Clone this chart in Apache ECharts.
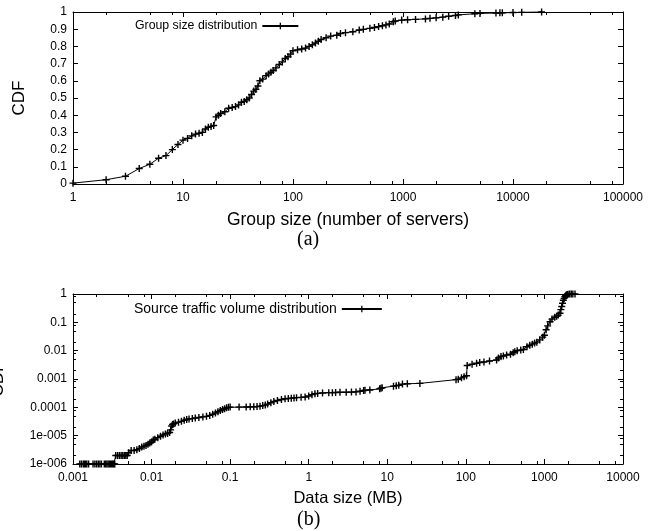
<!DOCTYPE html>
<html>
<head>
<meta charset="utf-8">
<script src="https://cdn.jsdelivr.net/npm/echarts@6/dist/echarts.min.js"></script>
<style>
html,body{margin:0;padding:0;background:#fff;}
#chart{width:665px;height:531px;}
</style>
</head>
<body>
<div id="chart"></div>
<script>
// ---- Data (a): group size distribution ----
const groupSize = [1,2,3,4,5,6,7,8,9,10,11,12,13,14,15,16,17,18,19,20,21,22,24,26,28,30,32,34,36,38,40,42,44,46,48,50,53,57,60,63,66,70,75,80,85,90,95,100,110,120,130,140,150,160,170,180,200,220,250,270,300,350,400,436,500,550,600,650,700,750,817,850,973,1100,1300,1600,1760,2000,2300,2600,3000,3184,4500,5010,7000,7600,8000,10000,12000,18200];
const groupCdf  = [0.005,0.025,0.045,0.09,0.115,0.15,0.165,0.2,0.23,0.255,0.265,0.28,0.29,0.295,0.3,0.32,0.33,0.335,0.34,0.39,0.4,0.41,0.42,0.44,0.445,0.45,0.46,0.475,0.48,0.49,0.5,0.52,0.54,0.55,0.57,0.6,0.61,0.63,0.64,0.65,0.66,0.675,0.695,0.71,0.73,0.74,0.755,0.775,0.78,0.785,0.79,0.8,0.81,0.82,0.83,0.84,0.85,0.86,0.865,0.875,0.88,0.885,0.895,0.899,0.905,0.91,0.915,0.92,0.925,0.93,0.944,0.948,0.953,0.955,0.957,0.96,0.963,0.966,0.97,0.975,0.98,0.983,0.99,0.992,0.994,0.995,0.995,0.997,0.998,1.0];

// ---- Data (b): source traffic volume distribution ----
const dataSize = [0.00122,0.00128,0.00135,0.0014,0.00145,0.0015,0.00158,0.0018,0.0019,0.002,0.0021,0.0022,0.0023,0.0025,0.0026,0.0027,0.0028,0.0029,0.003,0.0031,0.0032,0.0033,0.0034,
  0.0035,0.0037,0.0039,0.0041,0.0043,0.0045,0.0047,0.0049,0.0051,0.0055,0.006,0.0065,0.007,0.0075,0.008,0.0085,0.009,0.0095,0.01,0.0105,0.011,0.012,0.013,0.014,0.015,0.016,0.017,0.0175,0.018,0.0185,0.019,0.02,0.022,0.024,0.026,0.028,0.03,0.033,0.036,0.04,0.045,0.05,0.055,0.06,0.065,0.07,0.075,0.08,0.085,0.09,0.095,0.1,
  0.13,0.16,0.18,0.2,0.22,0.24,0.26,0.28,0.3,0.33,0.36,0.4,0.45,0.5,0.55,0.6,0.65,0.7,0.8,0.9,1.0,1.1,1.2,1.3,1.5,1.8,2.0,2.2,2.5,3.0,3.5,4.0,4.5,5.0,5.2,6,8,8.3,8.6,12,13,14,15.6,18,26,75,80,88,95,102,
  104,120,137,150,170,200,246,260,280,300,330,370,400,420,450,500,540,600,650,700,750,800,870,950,1000,1050,1100,1180,1250,1350,1430,1500,1580,1620,1660,1700,1740,1780,1820,1860,1900,1950,2000,2100,2200,2300,2450];
const dataCdf = [1e-6,1e-6,1e-6,1e-6,1e-6,1e-6,1e-6,1e-6,1e-6,1e-6,1e-6,1e-6,1e-6,1e-6,1e-6,1e-6,1e-6,1e-6,1e-6,1e-6,1e-6,1e-6,1e-6,
  2e-6,2e-6,2e-6,2e-6,2e-6,2e-6,2e-6,2e-6,2.5e-6,3e-6,3e-6,3.2e-6,3.5e-6,4e-6,4.2e-6,4.5e-6,5e-6,5.5e-6,6e-6,7e-6,7.5e-6,8.5e-6,9.5e-6,1.05e-5,1.15e-5,1.2e-5,1.3e-5,1.6e-5,2.2e-5,2.5e-5,2.6e-5,2.8e-5,3.0e-5,3.2e-5,3.5e-5,3.7e-5,3.9e-5,4.0e-5,4.2e-5,4.4e-5,4.6e-5,4.8e-5,5.2e-5,5.7e-5,6.3e-5,7e-5,7.7e-5,8.4e-5,9e-5,9.6e-5,1.0e-4,1.02e-4,
  1.02e-4,1.03e-4,1.04e-4,1.05e-4,1.06e-4,1.1e-4,1.15e-4,1.2e-4,1.3e-4,1.45e-4,1.6e-4,1.75e-4,1.9e-4,2.0e-4,2.05e-4,2.1e-4,2.15e-4,2.2e-4,2.25e-4,2.3e-4,2.5e-4,2.8e-4,3.0e-4,3.1e-4,3.2e-4,3.3e-4,3.3e-4,3.35e-4,3.4e-4,3.4e-4,3.45e-4,3.5e-4,3.7e-4,3.9e-4,4.0e-4,4.1e-4,4.5e-4,4.7e-4,4.9e-4,5.6e-4,5.8e-4,6.0e-4,6.6e-4,6.8e-4,7e-4,9.5e-4,9.8e-4,1.1e-3,1.2e-3,1.3e-3,
  3.0e-3,3.3e-3,3.6e-3,3.8e-3,4.0e-3,4.3e-3,4.7e-3,5.5e-3,6.2e-3,6.5e-3,7.0e-3,7.5e-3,8.5e-3,9.2e-3,1.0e-2,1.05e-2,1.1e-2,1.38e-2,1.55e-2,1.7e-2,1.85e-2,2.0e-2,2.4e-2,3.0e-2,3.5e-2,5.5e-2,7.5e-2,0.105,0.13,0.15,0.165,0.18,0.21,0.28,0.36,0.47,0.6,0.7,0.8,0.87,0.93,0.96,0.98,0.995,1,1,1];

// ---- Tick labels ----
const xTicksA = ['1','10','100','1000','10000','100000'];
const xTicksB = ['0.001','0.01','0.1','1','10','100','1000','10000'];
const yTicksB = ['1e-006','1e-005','0.0001','0.001','0.01','0.1','1'];
const minorMantissas = [2, 5, 8];

const seriesNameA = 'Group size distribution';
const seriesNameB = 'Source traffic volume distribution';

const FONT = '"Liberation Sans", Arial, Helvetica, sans-serif';
const plus = 'path://M4,0L6,0L6,4L10,4L10,6L6,6L6,10L4,10L4,6L0,6L0,4L4,4Z';

function logLabel(arr, minExp) {
  return function (v) {
    const i = Math.round(Math.log10(v)) - minExp;
    return arr[i] !== undefined ? arr[i] : '';
  };
}
function minorValues(minExp, maxExp) {
  const out = [];
  for (let e = minExp; e < maxExp; e++) {
    minorMantissas.forEach(m => out.push(+(m * Math.pow(10, e)).toPrecision(6)));
  }
  return out;
}

const axisLineBlack = { show: true, onZero: false, lineStyle: { color: '#000', width: 1 } };
const tickIn = { show: true, inside: true, length: 5, lineStyle: { color: '#000' } };
const lblStyle = { color: '#000', fontFamily: FONT, fontSize: 12 };

function minorAxis(type, grid, min, max, pos, vals) {
  return { type: 'log', logBase: 10, gridIndex: grid, min: min, max: max, position: pos,
    axisLine: { show: false, onZero: false }, splitLine: { show: false }, axisLabel: { show: false },
    axisTick: { show: true, inside: true, length: 3, customValues: vals, lineStyle: { color: '#000' } } };
}

const chart = echarts.init(document.getElementById('chart'), null, { renderer: 'canvas' });
chart.setOption({
  animation: false,
  backgroundColor: '#fff',
  grid: [
    { left: 73, top: 12, width: 550, height: 172, containLabel: false, outerBoundsMode: 'none' },
    { left: 73, top: 294, width: 550, height: 170, containLabel: false, outerBoundsMode: 'none' }
  ],
  legend: [
    { data: [seriesNameA], left: 130, top: 15, align: 'right', itemWidth: 36, itemHeight: 8, itemGap: 0,
      textStyle: { color: '#000', fontFamily: FONT, fontSize: 12.3 } },
    { data: [seriesNameB], left: 129, top: 297, align: 'right', itemWidth: 40, itemHeight: 8, itemGap: 0,
      textStyle: { color: '#000', fontFamily: FONT, fontSize: 14 } }
  ],
  xAxis: [
    { type: 'log', logBase: 10, gridIndex: 0, min: 1, max: 100000, position: 'bottom',
      axisLine: axisLineBlack, axisTick: tickIn, splitLine: { show: false },
      axisLabel: Object.assign({ margin: 8, formatter: logLabel(xTicksA, 0) }, lblStyle),
      name: 'Group size (number of servers)', nameLocation: 'middle', nameGap: 27,
      nameTextStyle: { color: '#000', fontFamily: FONT, fontSize: 17.5 } },
    { type: 'log', logBase: 10, gridIndex: 0, min: 1, max: 100000, position: 'top',
      axisLine: axisLineBlack, axisTick: tickIn, splitLine: { show: false }, axisLabel: { show: false } },
    { type: 'log', logBase: 10, gridIndex: 1, min: 0.001, max: 10000, position: 'bottom',
      axisLine: axisLineBlack, axisTick: tickIn, splitLine: { show: false },
      axisLabel: Object.assign({ margin: 8, formatter: logLabel(xTicksB, -3) }, lblStyle),
      name: 'Data size (MB)', nameLocation: 'middle', nameGap: 26,
      nameTextStyle: { color: '#000', fontFamily: FONT, fontSize: 16.5 } },
    { type: 'log', logBase: 10, gridIndex: 1, min: 0.001, max: 10000, position: 'top',
      axisLine: axisLineBlack, axisTick: tickIn, splitLine: { show: false }, axisLabel: { show: false } },
    minorAxis('x', 0, 1, 100000, 'bottom', minorValues(0, 5)),
    minorAxis('x', 0, 1, 100000, 'top', minorValues(0, 5)),
    minorAxis('x', 1, 0.001, 10000, 'bottom', minorValues(-3, 4)),
    minorAxis('x', 1, 0.001, 10000, 'top', minorValues(-3, 4))
  ],
  yAxis: [
    { type: 'value', gridIndex: 0, min: 0, max: 1, interval: 0.1, position: 'left',
      axisLine: axisLineBlack, axisTick: tickIn, splitLine: { show: false },
      axisLabel: Object.assign({ margin: 6 }, lblStyle),
      name: 'CDF', nameLocation: 'middle', nameGap: 45, nameRotate: 90,
      nameTextStyle: { color: '#000', fontFamily: FONT, fontSize: 17 } },
    { type: 'value', gridIndex: 0, min: 0, max: 1, interval: 0.1, position: 'right',
      axisLine: axisLineBlack, axisTick: tickIn, splitLine: { show: false }, axisLabel: { show: false } },
    { type: 'log', logBase: 10, gridIndex: 1, min: 1e-6, max: 1, position: 'left',
      axisLine: axisLineBlack, axisTick: tickIn, splitLine: { show: false },
      axisLabel: Object.assign({ margin: 6, formatter: logLabel(yTicksB, -6) }, lblStyle),
      name: 'CDF', nameLocation: 'middle', nameGap: 66, nameRotate: 90,
      nameTextStyle: { color: '#000', fontFamily: FONT, fontSize: 17 } },
    { type: 'log', logBase: 10, gridIndex: 1, min: 1e-6, max: 1, position: 'right',
      axisLine: axisLineBlack, axisTick: tickIn, splitLine: { show: false }, axisLabel: { show: false } },
    minorAxis('y', 1, 1e-6, 1, 'left', minorValues(-6, 0)),
    minorAxis('y', 1, 1e-6, 1, 'right', minorValues(-6, 0))
  ],
  graphic: [
    { type: 'text', left: 297, top: 230, style: { text: '(a)', fill: '#000', font: '20px "Liberation Serif", "DejaVu Serif", serif' } },
    { type: 'text', left: 297, top: 510, style: { text: '(b)', fill: '#000', font: '20px "Liberation Serif", "DejaVu Serif", serif' } }
  ],
  series: [
    { name: seriesNameA, type: 'line', xAxisIndex: 0, yAxisIndex: 0,
      data: groupSize.map((x, i) => [x, groupCdf[i]]),
      symbol: plus, symbolSize: 7, showAllSymbol: true, clip: false,
      itemStyle: { color: '#000' }, lineStyle: { color: '#000', width: 1 } },
    { name: seriesNameB, type: 'line', xAxisIndex: 2, yAxisIndex: 2,
      data: dataSize.map((x, i) => [x, dataCdf[i]]),
      symbol: plus, symbolSize: 7, showAllSymbol: true, clip: false,
      itemStyle: { color: '#000' }, lineStyle: { color: '#000', width: 1 } }
  ]
});
</script>
</body>
</html>
